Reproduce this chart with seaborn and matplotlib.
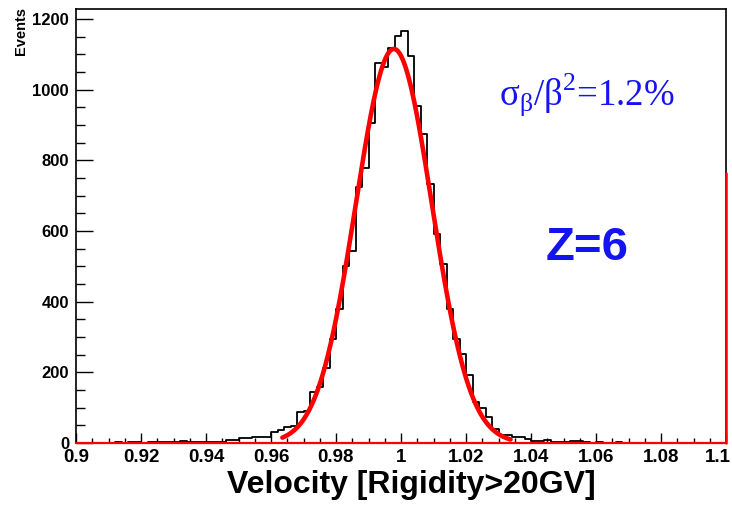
import numpy as np
import pandas as pd
import matplotlib
matplotlib.use("Agg")
import matplotlib.pyplot as plt
import matplotlib.transforms as mtransforms
import seaborn as sns
from matplotlib.ticker import MultipleLocator, FixedLocator

# ---- data ----
bin_start = 0.9
bin_end = 1.1
bin_width = 0.002
counts = [0, 1, 0, 1, 1, 1, 2, 1, 2, 2, 1, 3, 2, 3, 3,          # 0.900-0.930
          4, 5, 3, 3, 3, 3, 2, 3,                                # 0.930-0.946
          8, 8, 13, 13, 16, 16, 18, 30, 38, 44, 48, 88, 90,      # 0.946-0.972
          145, 159, 211, 293, 378, 500, 542, 723, 779, 906,      # 0.972-0.992
          1074, 1064, 1118, 1151, 1165, 1096, 953, 874, 733,     # 0.992-1.010
          592, 507, 380, 295, 253, 192, 117, 98, 74, 41, 22,     # 1.010-1.032
          22, 16, 16, 10, 6, 6, 8, 4, 4, 4, 6, 5,                # 1.032-1.056
          2, 1, 2, 1, 1, 2, 1,                                   # 1.056-1.070
          1, 0, 1, 0, 0, 1, 0, 0, 1, 0, 0, 0, 1, 0, 0]           # 1.070-1.100

# Gaussian fit parameters
fit_amp = 1115.0
fit_mean = 0.9978
fit_sigma = 0.0117
fit_lo = 0.9635
fit_hi = 1.0337

xtick_vals = [0.9, 0.92, 0.94, 0.96, 0.98, 1.0, 1.02, 1.04, 1.06, 1.08, 1.1]
xtick_labels = ["0.9", "0.92", "0.94", "0.96", "0.98", "1", "1.02", "1.04", "1.06", "1.08", "1.1"]
ytick_vals = [0, 200, 400, 600, 800, 1000, 1200]
red_edge_height = 764

x_title = "Velocity [Rigidity>20GV]"
y_title = "Events"
annot_res = r"σ$_\mathregular{β}$/β$^\mathregular{2}$=1.2%"
annot_z = "Z=6"

# ---- styling ----
sns.set_theme(style="ticks")
plt.rcParams["font.family"] = ["Liberation Sans", "DejaVu Sans"]

W, H = 732, 508
fig = plt.figure(figsize=(W / 100, H / 100), dpi=100)
fig.patch.set_facecolor("white")
ax = fig.add_axes([76 / W, 1 - 443 / H, 650 / W, 434 / H])
ax.set_facecolor("white")

centers = bin_start + bin_width * (np.arange(len(counts)) + 0.5)
df = pd.DataFrame({"velocity": centers, "events": counts})

sns.histplot(data=df, x="velocity", weights="events",
             binwidth=bin_width, binrange=(bin_start, bin_end),
             element="step", fill=False, color="black", linewidth=1.3, ax=ax)

# fit curve
xf = np.linspace(fit_lo, fit_hi, 400)
yf = fit_amp * np.exp(-0.5 * ((xf - fit_mean) / fit_sigma) ** 2)
sns.lineplot(x=xf, y=yf, color="red", linewidth=3.3, ax=ax)

# red function baseline and right edge
ax.plot([bin_start, bin_end], [0, 0], color="red", linewidth=1.6, zorder=5, clip_on=False)
ax.plot([bin_end, bin_end], [0, red_edge_height], color="red", linewidth=1.8,
        zorder=5, clip_on=False)

ax.set_xlim(bin_start, bin_end)
ax.set_ylim(0, 1228)

ax.xaxis.set_major_locator(FixedLocator(xtick_vals))
ax.set_xticklabels(xtick_labels)
ax.xaxis.set_minor_locator(MultipleLocator(0.005))
ax.yaxis.set_major_locator(FixedLocator(ytick_vals))
ax.yaxis.set_minor_locator(MultipleLocator(50))

ax.tick_params(axis="both", which="both", direction="in", top=False, right=False,
               colors="black", width=1.0)
ax.tick_params(axis="x", which="major", length=7, pad=4, labelsize=13.5)
ax.tick_params(axis="x", which="minor", length=3.5)
ax.tick_params(axis="y", which="major", length=12, pad=5, labelsize=12)
ax.tick_params(axis="y", which="minor", length=6.5)
for lab in ax.get_xticklabels() + ax.get_yticklabels():
    lab.set_fontweight("bold")

# keep last x label inside the figure, as in the reference
last = ax.get_xticklabels()[-1]
last.set_transform(last.get_transform() +
                   mtransforms.ScaledTranslation(-8 / 100, 0, fig.dpi_scale_trans))

for s in ax.spines.values():
    s.set_color("black")
    s.set_linewidth(1.2)

ax.set_xlabel("")
ax.set_ylabel("")

fig.text(411 / W, 1 - 485 / H, x_title, ha="center", va="center",
         fontsize=23, fontweight="bold", color="black")
fig.text(21 / W, 1 - 7 / H, y_title, ha="center", va="top", rotation=90,
         fontsize=10.5, fontweight="bold", color="black")

blue = "#1414f0"
fig.text(499 / W, 1 - 105 / H, annot_res, ha="left", va="baseline",
         fontsize=26.5, color=blue, family=["Liberation Serif", "DejaVu Serif"])
fig.text(587 / W, 1 - 248 / H, annot_z, ha="center", va="center",
         fontsize=34, fontweight="bold", color=blue)

fig.savefig("out.png", dpi=100, facecolor="white")
